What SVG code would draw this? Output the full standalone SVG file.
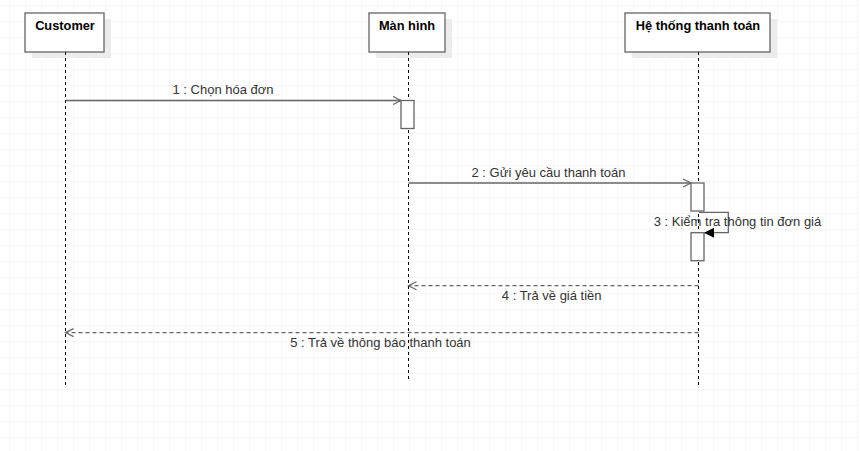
<svg xmlns="http://www.w3.org/2000/svg" width="860" height="451" viewBox="0 0 860 451">
<defs>
<pattern id="grid" x="9" y="5" width="16" height="16" patternUnits="userSpaceOnUse">
<path d="M0 0H16M0 0V16" fill="none" stroke="#f0f0f0" stroke-width="1"/>
</pattern>
<marker id="open" markerWidth="12" markerHeight="12" refX="9" refY="5" orient="auto" markerUnits="userSpaceOnUse">
<path d="M1 1L9 5L1 9" fill="none" stroke="#666" stroke-width="1.2"/>
</marker>
<marker id="filled" markerWidth="12" markerHeight="12" refX="10" refY="5" orient="auto" markerUnits="userSpaceOnUse">
<path d="M0 0L10 5L0 10Z" fill="#000"/>
</marker>
</defs>
<style>
.box{fill:#fff;stroke:#666;stroke-width:1.3}
.shadow{fill:#ececec}
.title{font-family:"Liberation Sans",Arial,sans-serif;font-size:12.8px;font-weight:bold;fill:#000;text-anchor:middle}
.life{stroke:#000;stroke-width:1;stroke-dasharray:3 3;fill:none}
.act{fill:#fff;stroke:#666;stroke-width:1.3}
.msg{stroke:#666;stroke-width:1.3;fill:none}
.ret{stroke:#666;stroke-width:1.3;fill:none;stroke-dasharray:4 3}
.lbl{font-family:"Liberation Sans",Arial,sans-serif;font-size:13px;fill:#333;text-anchor:middle}
</style>
<rect width="860" height="451" fill="#fff"/>
<rect width="860" height="451" fill="url(#grid)"/>

<g id="customer">
<rect class="shadow" x="32" y="19" width="79" height="39"/>
<rect class="box" x="25" y="13" width="79" height="39"/>
<text class="title" x="65" y="29.5">Customer</text>
<line class="life" x1="65.5" y1="52" x2="65.5" y2="386"/>
</g>

<g id="manhinh">
<rect class="shadow" x="376" y="19" width="76" height="39"/>
<rect class="box" x="369" y="13" width="76" height="39"/>
<text class="title" x="407" y="29.5">Màn hình</text>
<line class="life" x1="408.5" y1="52" x2="408.5" y2="379"/>
</g>

<g id="hethong">
<rect class="shadow" x="632" y="19" width="145" height="39"/>
<rect class="box" x="625" y="13" width="145" height="39"/>
<text class="title" x="698" y="30">Hệ thống thanh toán</text>
<line class="life" x1="698.5" y1="52" x2="698.5" y2="386"/>
</g>

<g id="connectors">
<line class="msg" x1="65.5" y1="100.5" x2="401" y2="100.5" marker-end="url(#open)"/>
<rect class="act" x="401" y="100.5" width="13" height="28"/>
<text class="lbl" x="223" y="94">1 : Chọn hóa đơn</text>

<line class="msg" x1="408.5" y1="183" x2="691" y2="183" marker-end="url(#open)"/>
<rect class="act" x="691" y="183" width="13" height="28"/>
<text class="lbl" x="548.5" y="177">2 : Gửi yêu cầu thanh toán</text>

<path class="msg" d="M699 212.3H728.3V232.7H704" marker-end="url(#filled)"/>
<rect class="act" x="691" y="232.7" width="13" height="28"/>
<text class="lbl" x="737.5" y="226">3 : Kiểm tra thông tin đơn giá</text>

<line class="ret" x1="698.5" y1="285.7" x2="408.5" y2="285.7" marker-end="url(#open)"/>
<text class="lbl" x="551.7" y="300">4 : Trả về giá tiền</text>

<line class="ret" x1="698.5" y1="332.6" x2="65.5" y2="332.6" marker-end="url(#open)"/>
<text class="lbl" x="380.5" y="347">5 : Trả về thông báo thanh toán</text>
</g>
</svg>
